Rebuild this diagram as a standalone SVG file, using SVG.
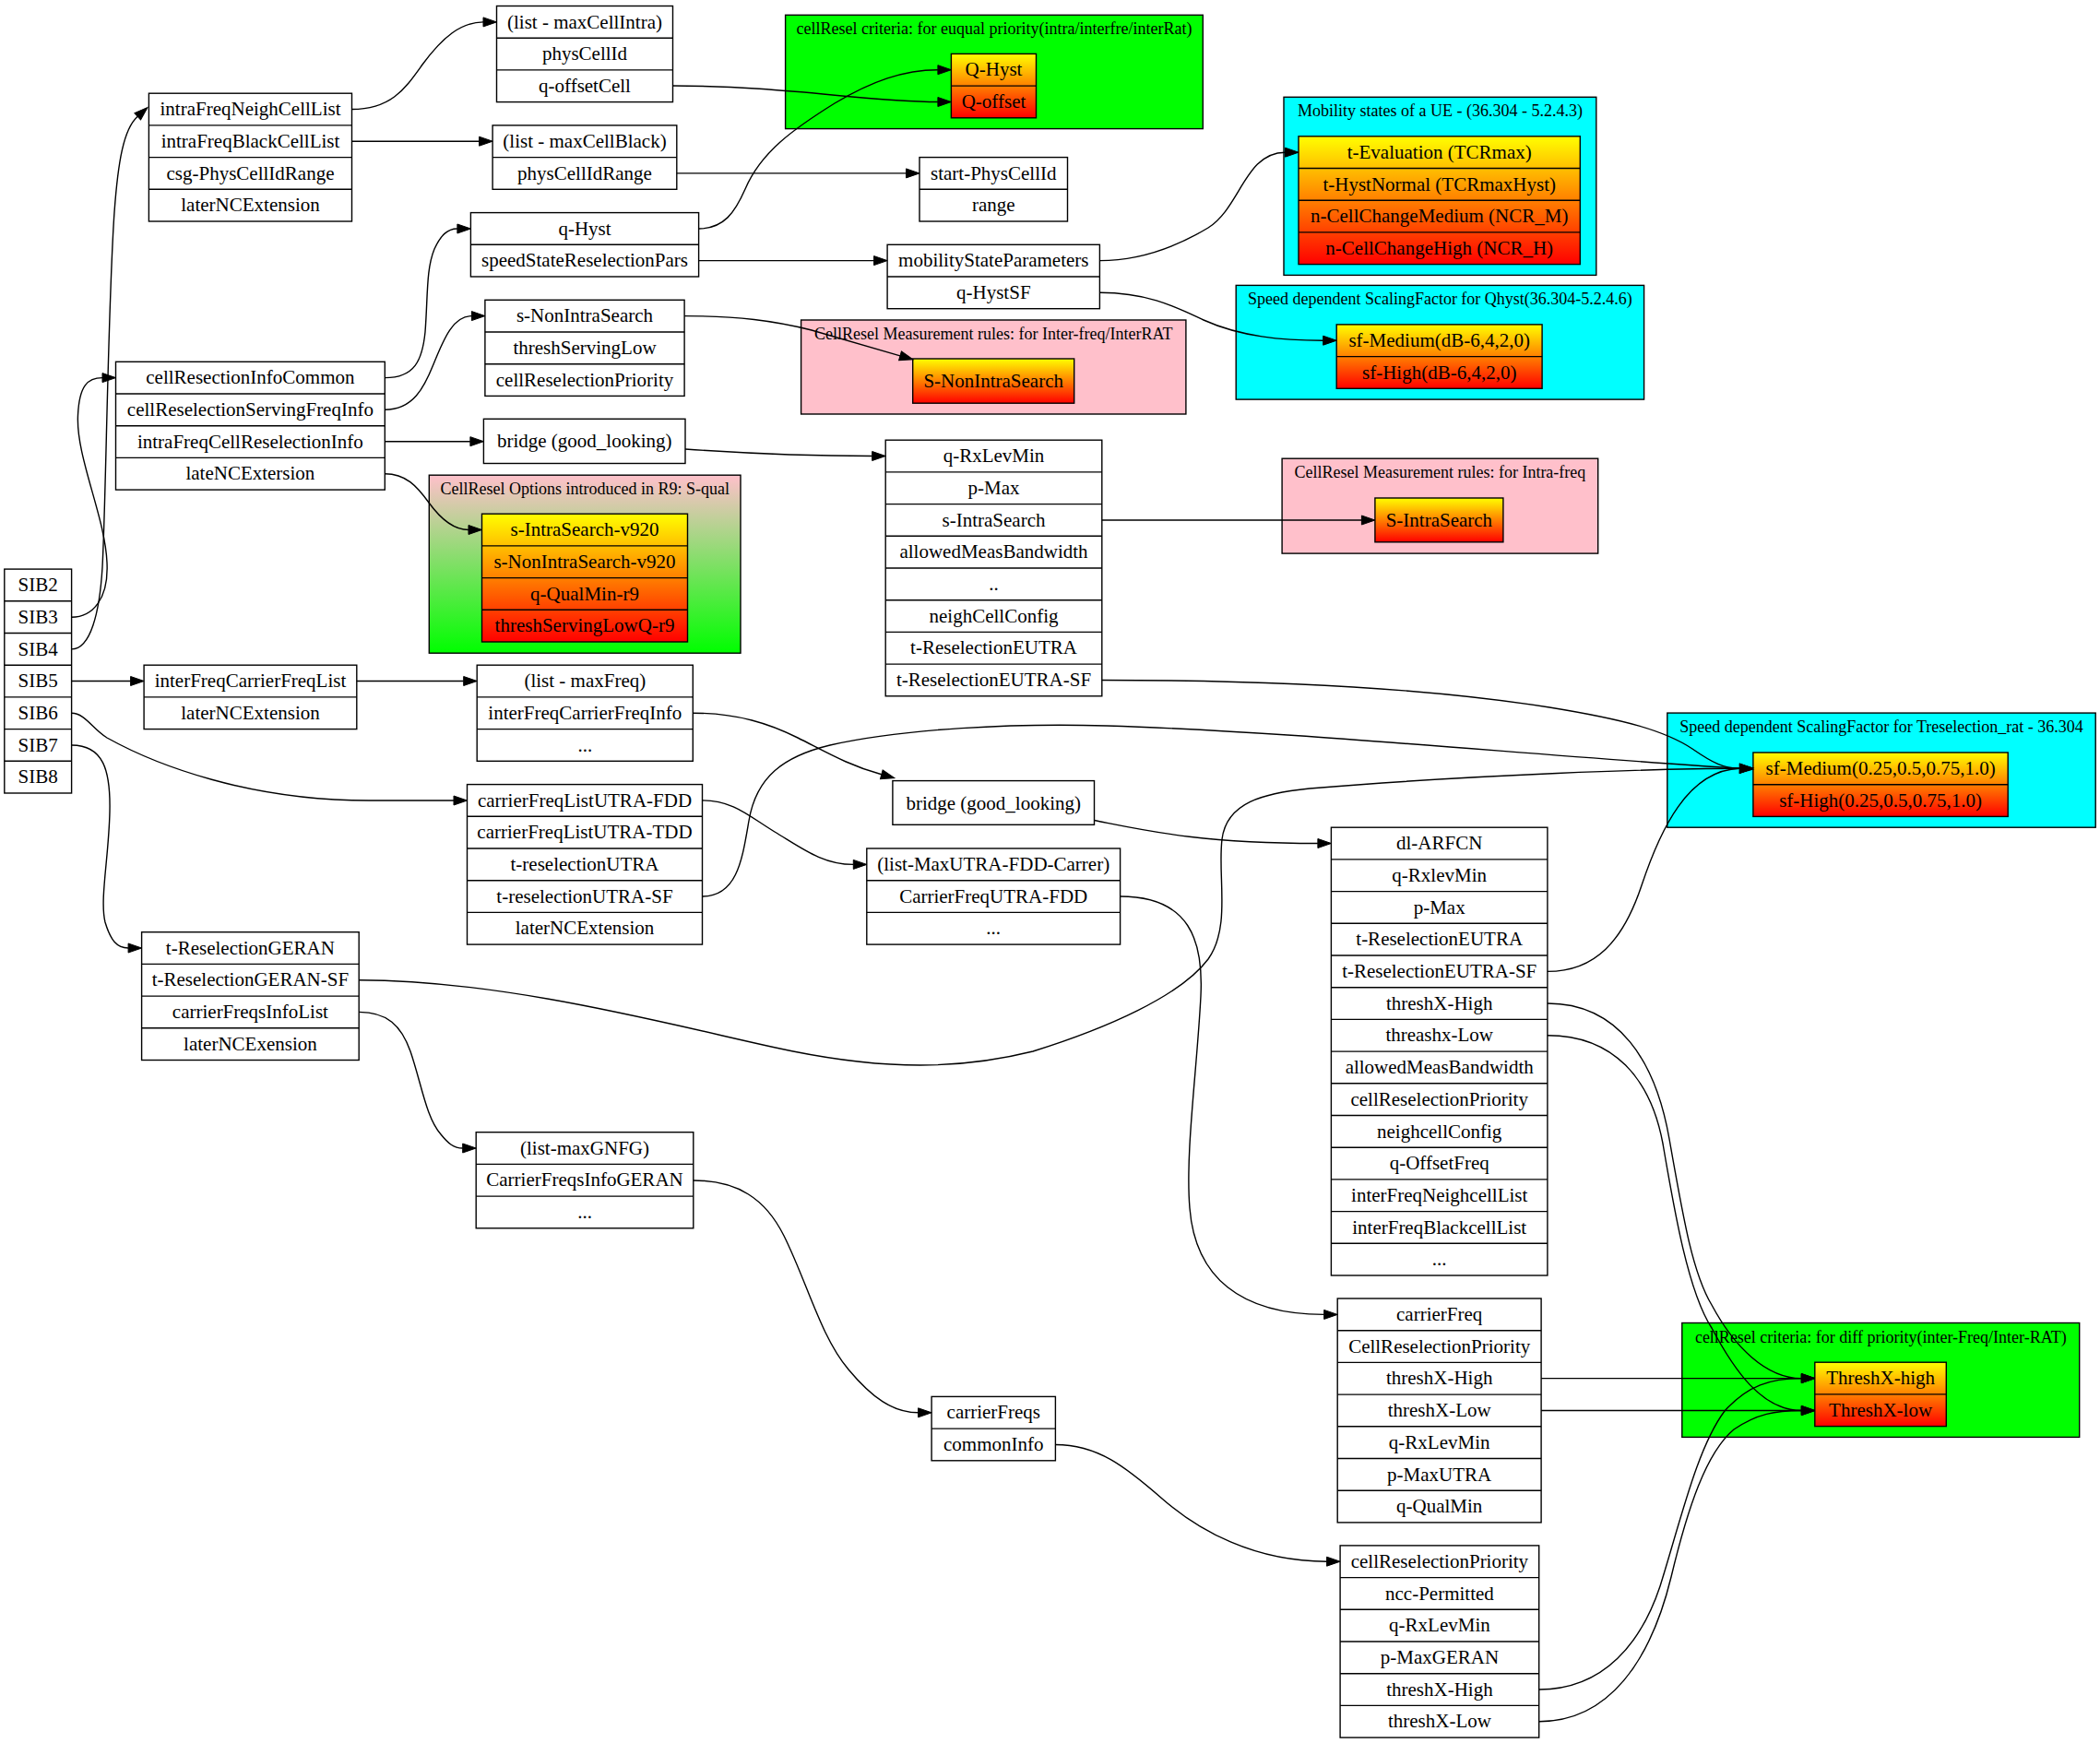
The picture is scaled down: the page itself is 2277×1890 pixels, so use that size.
<svg xmlns="http://www.w3.org/2000/svg" width="2277" height="1890" viewBox="0 0 2277 1890">
<defs>
<linearGradient id="yr" x1="0" y1="0" x2="0" y2="1"><stop offset="0" stop-color="#ffff00"/><stop offset="1" stop-color="#ff0000"/></linearGradient>
<linearGradient id="pg" x1="0" y1="0" x2="0" y2="1"><stop offset="0" stop-color="#ffc0cb"/><stop offset="1" stop-color="#00ff00"/></linearGradient>
<marker id="ah" markerUnits="userSpaceOnUse" markerWidth="16" markerHeight="12" refX="0" refY="5" orient="auto" overflow="visible"><path d="M0,0 L14.5,5 L0,10 Z" fill="#000" stroke="#000" stroke-width="1"/></marker>
</defs>
<style>
rect.b{fill:#fff;stroke:#000;stroke-width:1.4}
rect.y{fill:url(#yr);stroke:#000;stroke-width:1.4}
rect.cg{fill:#00ff00;stroke:#000;stroke-width:1.4}
rect.cc{fill:#00ffff;stroke:#000;stroke-width:1.4}
rect.cp{fill:#ffc0cb;stroke:#000;stroke-width:1.4}
rect.cr{fill:url(#pg);stroke:#000;stroke-width:1.4}
line{stroke:#000;stroke-width:1.4}
text{font-family:"Liberation Serif","Times New Roman",serif;font-size:21px;text-anchor:middle;fill:#000}
text.cl{font-size:18px}
#edges path{fill:none;stroke:#000;stroke-width:1.4;marker-end:url(#ah)}
</style>
<rect width="2277" height="1890" fill="#fff"/>

<g id="clusters">
<g id="cluster_equal"><rect class="cg" x="851.6" y="16.3" width="452.7" height="123.3"/><text class="cl" x="1078" y="37.3">cellResel criteria: for euqual priority(intra/interfre/interRat)</text></g>
<g id="cluster_mobility"><rect class="cc" x="1392" y="105.3" width="338.8" height="193.1"/><text class="cl" x="1561.4" y="126.3">Mobility states of a UE - (36.304 - 5.2.4.3)</text></g>
<g id="cluster_qhystsf"><rect class="cc" x="1340.2" y="309.4" width="442.4" height="123.7"/><text class="cl" x="1561.4" y="330.4">Speed dependent ScalingFactor for Qhyst(36.304-5.2.4.6)</text></g>
<g id="cluster_interfreq"><rect class="cp" x="868.6" y="347" width="417.3" height="102"/><text class="cl" x="1077.3" y="368">CellResel Measurement rules: for Inter-freq/InterRAT</text></g>
<g id="cluster_intrafreq"><rect class="cp" x="1390.1" y="497.2" width="342.6" height="102.9"/><text class="cl" x="1561.4" y="518.2">CellResel Measurement rules: for Intra-freq</text></g>
<g id="cluster_r9"><rect class="cr" x="465.3" y="515.2" width="337.7" height="193"/><text class="cl" x="634.2" y="536.2">CellResel Options introduced in R9: S-qual</text></g>
<g id="cluster_treselrat"><rect class="cc" x="1807.8" y="773.1" width="464.4" height="124.1"/><text class="cl" x="2040" y="794.1">Speed dependent ScalingFactor for Treselection_rat - 36.304</text></g>
<g id="cluster_diff"><rect class="cg" x="1823.8" y="1434.5" width="430.9" height="123.9"/><text class="cl" x="2039.3" y="1455.5">cellResel criteria: for diff priority(inter-Freq/Inter-RAT)</text></g>
</g>

<g id="nodes">
<g id="sib"><rect class="b" x="4.8" y="617.1" width="72.8" height="242.9"/>
<line x1="4.8" y1="651.8" x2="77.6" y2="651.8"/><line x1="4.8" y1="686.5" x2="77.6" y2="686.5"/><line x1="4.8" y1="721.2" x2="77.6" y2="721.2"/><line x1="4.8" y1="755.9" x2="77.6" y2="755.9"/><line x1="4.8" y1="790.6" x2="77.6" y2="790.6"/><line x1="4.8" y1="825.3" x2="77.6" y2="825.3"/>
<text x="41.2" y="641.1">SIB2</text><text x="41.2" y="675.8">SIB3</text><text x="41.2" y="710.5">SIB4</text><text x="41.2" y="745.2">SIB5</text><text x="41.2" y="779.9">SIB6</text><text x="41.2" y="814.6">SIB7</text><text x="41.2" y="849.3">SIB8</text></g>

<g id="sib3"><rect class="b" x="125.5" y="392.3" width="291.8" height="138.8"/>
<line x1="125.5" y1="427" x2="417.3" y2="427"/><line x1="125.5" y1="461.7" x2="417.3" y2="461.7"/><line x1="125.5" y1="496.4" x2="417.3" y2="496.4"/>
<text x="271.4" y="416.3">cellResectionInfoCommon</text><text x="271.4" y="451">cellReselectionServingFreqInfo</text><text x="271.4" y="485.7">intraFreqCellReselectionInfo</text><text x="271.4" y="520.4">lateNCExtersion</text></g>

<g id="sib4"><rect class="b" x="161.4" y="101.2" width="220.1" height="138.8"/>
<line x1="161.4" y1="135.9" x2="381.5" y2="135.9"/><line x1="161.4" y1="170.6" x2="381.5" y2="170.6"/><line x1="161.4" y1="205.3" x2="381.5" y2="205.3"/>
<text x="271.5" y="125.2">intraFreqNeighCellList</text><text x="271.5" y="159.9">intraFreqBlackCellList</text><text x="271.5" y="194.6">csg-PhysCellIdRange</text><text x="271.5" y="229.3">laterNCExtension</text></g>

<g id="maxCellIntra"><rect class="b" x="538.5" y="6.5" width="191" height="104.1"/>
<line x1="538.5" y1="41.2" x2="729.5" y2="41.2"/><line x1="538.5" y1="75.9" x2="729.5" y2="75.9"/>
<text x="634" y="30.5">(list - maxCellIntra)</text><text x="634" y="65.2">physCellId</text><text x="634" y="99.9">q-offsetCell</text></g>

<g id="maxCellBlack"><rect class="b" x="534.1" y="135.9" width="199.7" height="69.4"/>
<line x1="534.1" y1="170.6" x2="733.8" y2="170.6"/>
<text x="634" y="159.9">(list - maxCellBlack)</text><text x="634" y="194.6">physCellIdRange</text></g>

<g id="startPhys"><rect class="b" x="997" y="170.6" width="160.5" height="69.4"/>
<line x1="997" y1="205.3" x2="1157.5" y2="205.3"/>
<text x="1077.3" y="194.6">start-PhysCellId</text><text x="1077.3" y="229.3">range</text></g>

<g id="qHyst"><rect class="b" x="510.4" y="230.6" width="247.2" height="69.4"/>
<line x1="510.4" y1="265.3" x2="757.6" y2="265.3"/>
<text x="634" y="254.6">q-Hyst</text><text x="634" y="289.3">speedStateReselectionPars</text></g>

<g id="mobParams"><rect class="b" x="962.1" y="265.3" width="230.3" height="69.4"/>
<line x1="962.1" y1="300" x2="1192.4" y2="300"/>
<text x="1077.3" y="289.3">mobilityStateParameters</text><text x="1077.3" y="324">q-HystSF</text></g>

<g id="sNonIntra"><rect class="b" x="525.9" y="325.3" width="216.2" height="104.1"/>
<line x1="525.9" y1="360" x2="742.1" y2="360"/><line x1="525.9" y1="394.7" x2="742.1" y2="394.7"/>
<text x="634" y="349.3">s-NonIntraSearch</text><text x="634" y="384">threshServingLow</text><text x="634" y="418.7">cellReselectionPriority</text></g>

<g id="bridge1"><rect class="b" x="524.4" y="454.3" width="218.6" height="48.2"/>
<text x="633.7" y="485.4">bridge (good_looking)</text></g>

<g id="qRxLevMin"><rect class="b" x="960.2" y="477.2" width="234.6" height="277.6"/>
<line x1="960.2" y1="511.9" x2="1194.8" y2="511.9"/><line x1="960.2" y1="546.6" x2="1194.8" y2="546.6"/><line x1="960.2" y1="581.3" x2="1194.8" y2="581.3"/><line x1="960.2" y1="616" x2="1194.8" y2="616"/><line x1="960.2" y1="650.7" x2="1194.8" y2="650.7"/><line x1="960.2" y1="685.4" x2="1194.8" y2="685.4"/><line x1="960.2" y1="720.1" x2="1194.8" y2="720.1"/>
<text x="1077.5" y="501.2">q-RxLevMin</text><text x="1077.5" y="535.9">p-Max</text><text x="1077.5" y="570.6">s-IntraSearch</text><text x="1077.5" y="605.3">allowedMeasBandwidth</text><text x="1077.5" y="640">..</text><text x="1077.5" y="674.7">neighCellConfig</text><text x="1077.5" y="709.4">t-ReselectionEUTRA</text><text x="1077.5" y="744.1">t-ReselectionEUTRA-SF</text></g>

<g id="sib5"><rect class="b" x="156.1" y="721.2" width="230.7" height="69.4"/>
<line x1="156.1" y1="755.9" x2="386.8" y2="755.9"/>
<text x="271.5" y="745.2">interFreqCarrierFreqList</text><text x="271.5" y="779.9">laterNCExtension</text></g>

<g id="maxFreq"><rect class="b" x="517.2" y="721.2" width="234.1" height="104.1"/>
<line x1="517.2" y1="755.9" x2="751.3" y2="755.9"/><line x1="517.2" y1="790.6" x2="751.3" y2="790.6"/>
<text x="634.3" y="745.2">(list - maxFreq)</text><text x="634.3" y="779.9">interFreqCarrierFreqInfo</text><text x="634.3" y="814.6">...</text></g>

<g id="sib6"><rect class="b" x="506.5" y="850.6" width="255" height="173.5"/>
<line x1="506.5" y1="885.3" x2="761.5" y2="885.3"/><line x1="506.5" y1="920" x2="761.5" y2="920"/><line x1="506.5" y1="954.7" x2="761.5" y2="954.7"/><line x1="506.5" y1="989.4" x2="761.5" y2="989.4"/>
<text x="634" y="874.6">carrierFreqListUTRA-FDD</text><text x="634" y="909.3">carrierFreqListUTRA-TDD</text><text x="634" y="944">t-reselectionUTRA</text><text x="634" y="978.7">t-reselectionUTRA-SF</text><text x="634" y="1013.4">laterNCExtension</text></g>

<g id="bridge2"><rect class="b" x="967.9" y="846.6" width="218.6" height="47.7"/>
<text x="1077.2" y="877.5">bridge (good_looking)</text></g>

<g id="maxUTRA"><rect class="b" x="939.8" y="920" width="274.8" height="104.1"/>
<line x1="939.8" y1="954.7" x2="1214.6" y2="954.7"/><line x1="939.8" y1="989.4" x2="1214.6" y2="989.4"/>
<text x="1077.2" y="944">(list-MaxUTRA-FDD-Carrer)</text><text x="1077.2" y="978.7">CarrierFreqUTRA-FDD</text><text x="1077.2" y="1013.4">...</text></g>

<g id="dlARFCN"><rect class="b" x="1443.4" y="897.2" width="234.5" height="485.8"/>
<line x1="1443.4" y1="931.9" x2="1677.9" y2="931.9"/><line x1="1443.4" y1="966.6" x2="1677.9" y2="966.6"/><line x1="1443.4" y1="1001.3" x2="1677.9" y2="1001.3"/><line x1="1443.4" y1="1036" x2="1677.9" y2="1036"/><line x1="1443.4" y1="1070.7" x2="1677.9" y2="1070.7"/><line x1="1443.4" y1="1105.4" x2="1677.9" y2="1105.4"/><line x1="1443.4" y1="1140.1" x2="1677.9" y2="1140.1"/><line x1="1443.4" y1="1174.8" x2="1677.9" y2="1174.8"/><line x1="1443.4" y1="1209.5" x2="1677.9" y2="1209.5"/><line x1="1443.4" y1="1244.2" x2="1677.9" y2="1244.2"/><line x1="1443.4" y1="1278.9" x2="1677.9" y2="1278.9"/><line x1="1443.4" y1="1313.6" x2="1677.9" y2="1313.6"/><line x1="1443.4" y1="1348.3" x2="1677.9" y2="1348.3"/>
<text x="1560.7" y="921.2">dl-ARFCN</text><text x="1560.7" y="955.9">q-RxlevMin</text><text x="1560.7" y="990.6">p-Max</text><text x="1560.7" y="1025.3">t-ReselectionEUTRA</text><text x="1560.7" y="1060">t-ReselectionEUTRA-SF</text><text x="1560.7" y="1094.7">threshX-High</text><text x="1560.7" y="1129.4">threashx-Low</text><text x="1560.7" y="1164.1">allowedMeasBandwidth</text><text x="1560.7" y="1198.8">cellReselectionPriority</text><text x="1560.7" y="1233.5">neighcellConfig</text><text x="1560.7" y="1268.2">q-OffsetFreq</text><text x="1560.7" y="1302.9">interFreqNeighcellList</text><text x="1560.7" y="1337.6">interFreqBlackcellList</text><text x="1560.7" y="1372.3">...</text></g>

<g id="sib7"><rect class="b" x="153.6" y="1010.7" width="235.6" height="138.8"/>
<line x1="153.6" y1="1045.4" x2="389.2" y2="1045.4"/><line x1="153.6" y1="1080.1" x2="389.2" y2="1080.1"/><line x1="153.6" y1="1114.8" x2="389.2" y2="1114.8"/>
<text x="271.4" y="1034.7">t-ReselectionGERAN</text><text x="271.4" y="1069.4">t-ReselectionGERAN-SF</text><text x="271.4" y="1104.1">carrierFreqsInfoList</text><text x="271.4" y="1138.8">laterNCExension</text></g>

<g id="maxGNFG"><rect class="b" x="516.2" y="1227.7" width="235.6" height="104.1"/>
<line x1="516.2" y1="1262.4" x2="751.8" y2="1262.4"/><line x1="516.2" y1="1297.1" x2="751.8" y2="1297.1"/>
<text x="634" y="1251.7">(list-maxGNFG)</text><text x="634" y="1286.4">CarrierFreqsInfoGERAN</text><text x="634" y="1321.1">...</text></g>

<g id="carrierFreqs"><rect class="b" x="1010.1" y="1514.4" width="134.3" height="69.4"/>
<line x1="1010.1" y1="1549.1" x2="1144.4" y2="1549.1"/>
<text x="1077.3" y="1538.4">carrierFreqs</text><text x="1077.3" y="1573.1">commonInfo</text></g>

<g id="carrierFreqUTRA"><rect class="b" x="1450.2" y="1408" width="220.9" height="242.9"/>
<line x1="1450.2" y1="1442.7" x2="1671.1" y2="1442.7"/><line x1="1450.2" y1="1477.4" x2="1671.1" y2="1477.4"/><line x1="1450.2" y1="1512.1" x2="1671.1" y2="1512.1"/><line x1="1450.2" y1="1546.8" x2="1671.1" y2="1546.8"/><line x1="1450.2" y1="1581.5" x2="1671.1" y2="1581.5"/><line x1="1450.2" y1="1616.2" x2="1671.1" y2="1616.2"/>
<text x="1560.7" y="1432">carrierFreq</text><text x="1560.7" y="1466.7">CellReselectionPriority</text><text x="1560.7" y="1501.4">threshX-High</text><text x="1560.7" y="1536.1">threshX-Low</text><text x="1560.7" y="1570.8">q-RxLevMin</text><text x="1560.7" y="1605.5">p-MaxUTRA</text><text x="1560.7" y="1640.2">q-QualMin</text></g>

<g id="geranCommon"><rect class="b" x="1453.1" y="1675.9" width="215.6" height="208.2"/>
<line x1="1453.1" y1="1710.6" x2="1668.7" y2="1710.6"/><line x1="1453.1" y1="1745.3" x2="1668.7" y2="1745.3"/><line x1="1453.1" y1="1780" x2="1668.7" y2="1780"/><line x1="1453.1" y1="1814.7" x2="1668.7" y2="1814.7"/><line x1="1453.1" y1="1849.4" x2="1668.7" y2="1849.4"/>
<text x="1560.9" y="1699.9">cellReselectionPriority</text><text x="1560.9" y="1734.6">ncc-Permitted</text><text x="1560.9" y="1769.3">q-RxLevMin</text><text x="1560.9" y="1804">p-MaxGERAN</text><text x="1560.9" y="1838.7">threshX-High</text><text x="1560.9" y="1873.4">threshX-Low</text></g>

<g id="qhystRec"><rect class="y" x="1031.4" y="58.4" width="92.1" height="69.4"/>
<line x1="1031.4" y1="93.1" x2="1123.5" y2="93.1"/>
<text x="1077.5" y="82.4">Q-Hyst</text><text x="1077.5" y="117.1">Q-offset</text></g>

<g id="mobRec"><rect class="y" x="1408" y="147.8" width="305.3" height="138.8"/>
<line x1="1408" y1="182.5" x2="1713.3" y2="182.5"/><line x1="1408" y1="217.2" x2="1713.3" y2="217.2"/><line x1="1408" y1="251.9" x2="1713.3" y2="251.9"/>
<text x="1560.7" y="171.8">t-Evaluation (TCRmax)</text><text x="1560.7" y="206.5">t-HystNormal (TCRmaxHyst)</text><text x="1560.7" y="241.2">n-CellChangeMedium (NCR_M)</text><text x="1560.7" y="275.9">n-CellChangeHigh (NCR_H)</text></g>

<g id="qhystSFRec"><rect class="y" x="1449.2" y="351.9" width="222.9" height="69.4"/>
<line x1="1449.2" y1="386.6" x2="1672.1" y2="386.6"/>
<text x="1560.7" y="375.9">sf-Medium(dB-6,4,2,0)</text><text x="1560.7" y="410.6">sf-High(dB-6,4,2,0)</text></g>

<g id="sNonIntraRec"><rect class="y" x="989.7" y="389" width="175" height="48.2"/>
<text x="1077.2" y="420.1">S-NonIntraSearch</text></g>

<g id="sIntraRec"><rect class="y" x="1490.9" y="540" width="139" height="47.8"/>
<text x="1560.4" y="570.9">S-IntraSearch</text></g>

<g id="r9Rec"><rect class="y" x="522.5" y="557.2" width="223" height="138.8"/>
<line x1="522.5" y1="591.9" x2="745.5" y2="591.9"/><line x1="522.5" y1="626.6" x2="745.5" y2="626.6"/><line x1="522.5" y1="661.3" x2="745.5" y2="661.3"/>
<text x="634" y="581.2">s-IntraSearch-v920</text><text x="634" y="615.9">s-NonIntraSearch-v920</text><text x="634" y="650.6">q-QualMin-r9</text><text x="634" y="685.3">threshServingLowQ-r9</text></g>

<g id="treselRec"><rect class="y" x="1900.9" y="816" width="276.3" height="69.4"/>
<line x1="1900.9" y1="850.7" x2="2177.2" y2="850.7"/>
<text x="2039.1" y="840">sf-Medium(0.25,0.5,0.75,1.0)</text><text x="2039.1" y="874.7">sf-High(0.25,0.5,0.75,1.0)</text></g>

<g id="threshRec"><rect class="y" x="1967.8" y="1477.2" width="142.5" height="69.4"/>
<line x1="1967.8" y1="1511.9" x2="2110.3" y2="1511.9"/>
<text x="2039.1" y="1501.2">ThreshX-high</text><text x="2039.1" y="1535.9">ThreshX-low</text></g>
</g>

<g id="edges">
<path d="M77.6,669.2 C100,669.2 118,650 116,610 C114,560 82,495 84.5,450 C86,418 95,409.6 111,409.6"/>
<path d="M77.6,703.9 C98,703.9 108,665 111,615 C115,540 117,330 124,230 C128,175 134,140 149.2,126.3"/>
<path d="M77.6,738.5 L141.6,738.5"/>
<path d="M77.6,773.3 C92,773.3 100,790 116,800 C170,830 270,868 400,868 L492,868"/>
<path d="M77.6,808 C112,808 120,835 119,880 C118,930 108,975 114,1000 C120,1020 127,1028 139.1,1028"/>
<path d="M381.5,118.5 C425,118.5 440,95 458,70 C480,40 500,23.9 524,23.9"/>
<path d="M381.5,153.2 L519.6,153.2"/>
<path d="M729.5,93 C850,93 940,110.5 1016.9,110.5"/>
<path d="M757.6,248 C785,248 797,230 808,205 C825,165 860,140 905,112 C945,88 980,75.7 1016.9,75.7"/>
<path d="M757.6,282.6 L947.6,282.6"/>
<path d="M733.8,187.9 L982.5,187.9"/>
<path d="M1192.4,282.6 C1240,282.6 1280,265 1310,247 C1345,225 1350,165.2 1393.5,165.2"/>
<path d="M1192.4,317.3 C1245,317.3 1275,333 1305,347 C1345,365 1390,369.2 1434.7,369.2"/>
<path d="M742.1,342.6 C800,342.6 840,348 880,358 L976,385.8"/>
<path d="M417.3,409.6 C450,409.6 458,390 461,360 C464,320 462,292 471,270 C478,255 485,248 495.9,248"/>
<path d="M417.3,444.3 C448,444.3 460,420 470,395 C482,365 492,342.6 511.4,342.6"/>
<path d="M417.3,478.7 L509.9,478.7"/>
<path d="M417.3,513.7 C440,513.7 452,527 465,545 C478,563 492,574.5 508,574.5"/>
<path d="M743,487 C800,491 880,494.5 945.7,494.5"/>
<path d="M1194.8,564 L1476.4,564"/>
<path d="M1194.8,737.5 C1400,737.5 1560,748 1680,767 C1760,780 1805,792 1835,812 C1858,828 1870,833.3 1886.4,833.3"/>
<path d="M386.8,738.5 L502.7,738.5"/>
<path d="M751.3,773.2 C800,773.2 835,785 865,800 C895,815 920,830 955.8,839.8"/>
<path d="M761.5,972 C800,972 805,930 812,890 C820,842 850,820 900,808 C980,790 1100,784 1200,787 C1400,793 1650,818 1886.4,833.3"/>
<path d="M1186.5,889.5 C1240,900 1300,914.5 1428.9,914.5"/>
<path d="M761.5,867.9 C795,867.9 812,885 840,902 C870,920 892,937.4 925.3,937.4"/>
<path d="M1214.6,972 C1290,972 1305,1020 1302,1080 C1298,1160 1285,1250 1290,1310 C1296,1385 1345,1425.4 1435.7,1425.4"/>
<path d="M389.2,1062.7 C560,1062.7 760,1120 860,1140 C960,1160 1040,1160 1120,1140 C1200,1115 1280,1080 1310,1040 C1335,1005 1320,950 1325,910 C1330,870 1370,860 1420,855 C1600,840 1800,833.3 1886.4,833.3"/>
<path d="M389.2,1097.4 C420,1097.4 435,1112 445,1140 C457,1175 462,1212 478,1230 C486,1240 492,1245 501.7,1245"/>
<path d="M751.8,1280 C800,1280 830,1300 850,1340 C875,1390 890,1450 920,1485 C945,1515 968,1531.8 995.6,1531.8"/>
<path d="M1144.4,1566.5 C1190,1566.5 1220,1590 1260,1625 C1300,1660 1360,1693.2 1438.6,1693.2"/>
<path d="M1677.9,1053.4 C1730,1053.4 1760,1020 1780,960 C1800,900 1830,835 1886.4,833.3"/>
<path d="M1677.9,1088 C1755,1088 1795,1150 1810,1235 C1825,1320 1835,1380 1856,1415 C1880,1460 1915,1494.6 1953.3,1494.6"/>
<path d="M1677.9,1122.7 C1750,1122.7 1790,1170 1803,1240 C1815,1310 1830,1400 1856,1440 C1880,1485 1910,1529.5 1953.3,1529.5"/>
<path d="M1671.1,1494.6 L1953.3,1494.6"/>
<path d="M1671.1,1529.5 L1953.3,1529.5"/>
<path d="M1668.7,1832 C1740,1832 1780,1780 1800,1720 C1822,1650 1840,1570 1870,1530 C1895,1502 1920,1494.6 1953.3,1494.6"/>
<path d="M1668.7,1866.7 C1745,1866.7 1790,1800 1812,1710 C1830,1635 1850,1575 1880,1550 C1905,1533 1925,1529.5 1953.3,1529.5"/>
</g>
</svg>
